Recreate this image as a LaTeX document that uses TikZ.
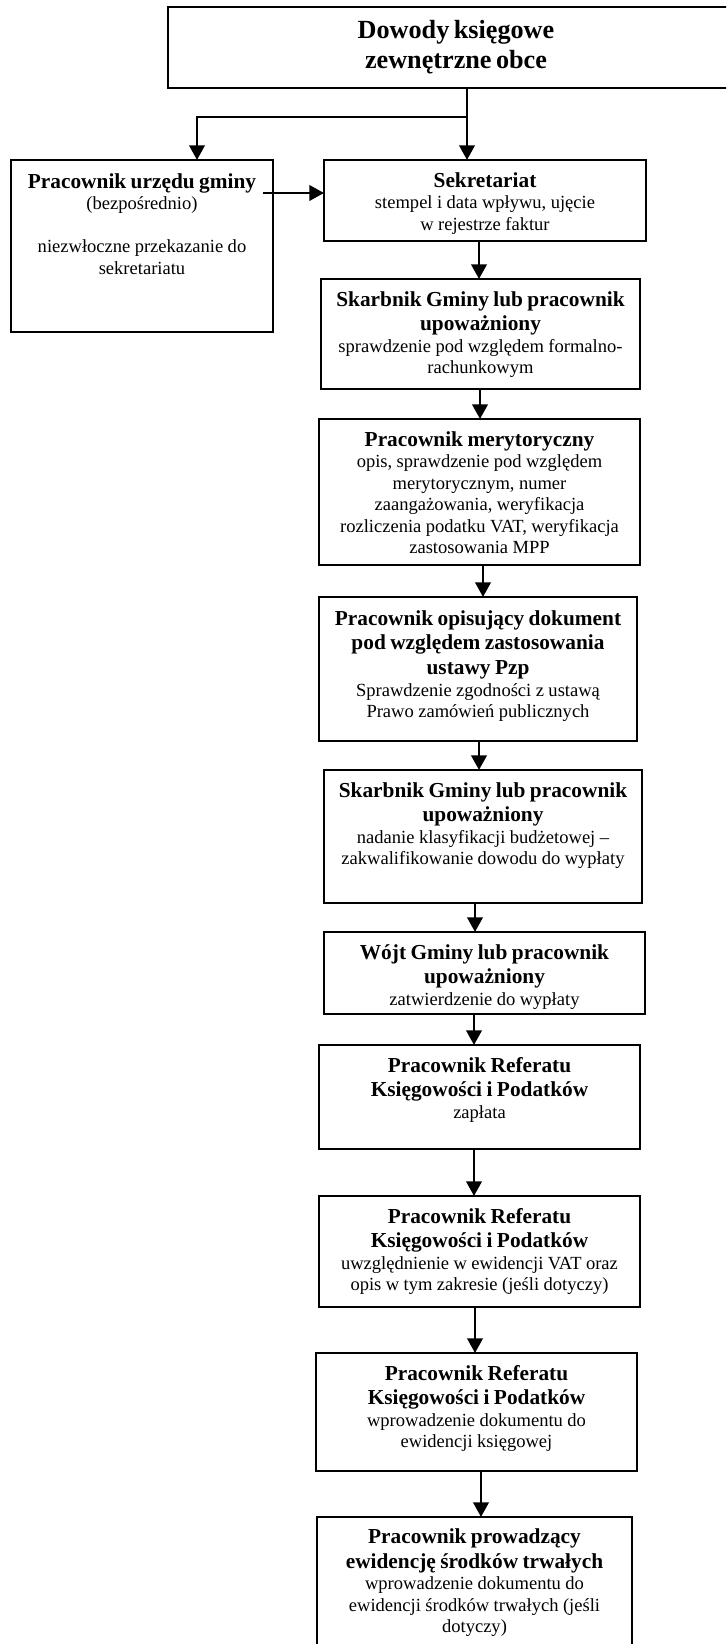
\documentclass[tikz,border=0pt]{standalone}
\usepackage{fontspec}
\setmainfont{Liberation Serif}
\usetikzlibrary{arrows.meta,calc,fit}
\setlength{\parindent}{0pt}
\newcommand\fTitle{\fontsize{19.65pt}{22.8pt}\bfseries\selectfont}
\newcommand\fHead{\fontsize{16pt}{18.5pt}\bfseries\selectfont}
\newcommand\fBody{\fontsize{13.9pt}{16.1pt}\mdseries\selectfont}
\begin{document}
\begin{tikzpicture}[x=0.75pt,y=-0.75pt,
  box/.style={draw, line width=1.6pt, inner sep=0pt, outer sep=0pt},
  txt/.style={anchor=north, inner sep=0pt, text width=232pt, align=center},
  arr/.style={line width=2.2pt, -{Triangle[length=11pt,width=11.5pt]}}]
\useasboundingbox (0,0) rectangle (726,1644);
\clip (0,0) rectangle (726,1644);
% boxes
\node[box, fit={(168,7) (744,88)}] (top) {};
\node[box, fit={(11,160) (273,332)}] (left) {};
\node[box, fit={(324,160) (646,241)}] (sek) {};
\node[box, fit={(321,279) (640,389)}] (sk1) {};
\node[box, fit={(319,419) (640,565)}] (mer) {};
\node[box, fit={(319,597) (637,741)}] (pzp) {};
\node[box, fit={(324,770) (642,903)}] (sk2) {};
\node[box, fit={(324,932) (645,1014)}] (wojt) {};
\node[box, fit={(319,1045) (640,1149)}] (ref1) {};
\node[box, fit={(319,1196) (640,1307)}] (ref2) {};
\node[box, fit={(316,1353) (637,1471)}] (ref3) {};
\node[box, fit={(317,1517) (632,1680)}] (srod) {};
% texts
\node[txt, text width=400pt] (topT) at ($(top.north)+(0,8.3)$) {\fTitle\rule{0pt}{17pt}Dowody księgowe\\zewnętrzne obce\par};
\node[txt, text width=187pt] (leftT) at ($(left.north)+(0,9.3)$) {\fHead\rule{0pt}{14pt}Pracownik urzędu gminy\par\fBody(bezpośrednio)\\[16.1pt]niezwłoczne przekazanie do\\sekretariatu\par};
\node[txt] (sekT) at ($(sek.north)+(0,8.3)$) {\fHead\rule{0pt}{14pt}Sekretariat\par\fBody stempel i data wpływu, ujęcie\\w rejestrze faktur\par};
\node[txt] (sk1T) at ($(sk1.north)+(0,8.3)$) {\fHead\rule{0pt}{14pt}Skarbnik Gminy lub pracownik\\upoważniony\par\fBody sprawdzenie pod względem formalno-\\rachunkowym\par};
\node[txt] (merT) at ($(mer.north)+(0,8.3)$) {\fHead\rule{0pt}{14pt}Pracownik merytoryczny\par\fBody opis, sprawdzenie pod względem\\merytorycznym, numer\\zaangażowania, weryfikacja\\rozliczenia podatku VAT, weryfikacja\\zastosowania MPP\par};
\node[txt] (pzpT) at ($(pzp.north)+(0,9.3)$) {\fHead\rule{0pt}{14pt}Pracownik opisujący dokument\\pod względem zastosowania\\ustawy Pzp\par\fBody Sprawdzenie zgodności z ustawą\\Prawo zamówień publicznych\par};
\node[txt] (sk2T) at ($(sk2.north)+(0,8.3)$) {\fHead\rule{0pt}{14pt}Skarbnik Gminy lub pracownik\\upoważniony\par\fBody nadanie klasyfikacji budżetowej –\\zakwalifikowanie dowodu do wypłaty\par};
\node[txt] (wojtT) at ($(wojt.north)+(0,8.3)$) {\fHead\rule{0pt}{14pt}Wójt Gminy lub pracownik\\upoważniony\par\fBody zatwierdzenie do wypłaty\par};
\node[txt] (ref1T) at ($(ref1.north)+(0,8.3)$) {\fHead\rule{0pt}{14pt}Pracownik Referatu\\Księgowości i Podatków\par\fBody zapłata\par};
\node[txt] (ref2T) at ($(ref2.north)+(0,8.3)$) {\fHead\rule{0pt}{14pt}Pracownik Referatu\\Księgowości i Podatków\par\fBody uwzględnienie w ewidencji VAT oraz\\opis w tym zakresie (jeśli dotyczy)\par};
\node[txt] (ref3T) at ($(ref3.north)+(0,8.3)$) {\fHead\rule{0pt}{14pt}Pracownik Referatu\\Księgowości i Podatków\par\fBody wprowadzenie dokumentu do\\ewidencji księgowej\par};
\node[txt] (srodT) at ($(srod.north)+(0,7.8)$) {\fHead\rule{0pt}{14pt}Pracownik prowadzący\\ewidencję środków trwałych\par\fBody wprowadzenie dokumentu do\\ewidencji środków trwałych (jeśli\\dotyczy)\par};
% connectors
\coordinate (t0) at ($(top.south)+(11,0)$);
\coordinate (j) at ($(top.south)+(11,29)$);
\draw[arr] (t0) -- (t0 |- sek.north);
\draw[arr] (j) -| ($(left.north)+(55,0)$);
\coordinate (h0) at ($(left.east)+(-10,-53)$);
\draw[arr] (h0) -- (h0 -| sek.west);
\coordinate (a1) at ($(sek.south)+(-6,0)$);
\draw[arr] (a1) -- (a1 |- sk1.north);
\coordinate (a2) at ($(sk1.south)+(-0.5,0)$);
\draw[arr] (a2) -- (a2 |- mer.north);
\coordinate (a3) at ($(mer.south)+(3.5,0)$);
\draw[arr] (a3) -- (a3 |- pzp.north);
\coordinate (a4) at ($(pzp.south)+(1,0)$);
\draw[arr] (a4) -- (a4 |- sk2.north);
\coordinate (a5) at ($(sk2.south)+(-8,0)$);
\draw[arr] (a5) -- (a5 |- wojt.north);
\coordinate (a6) at ($(wojt.south)+(-10.5,0)$);
\draw[arr] (a6) -- (a6 |- ref1.north);
\coordinate (a7) at ($(ref1.south)+(-5.5,0)$);
\draw[arr] (a7) -- (a7 |- ref2.north);
\coordinate (a8) at ($(ref2.south)+(-4.5,0)$);
\draw[arr] (a8) -- (a8 |- ref3.north);
\coordinate (a9) at ($(ref3.south)+(4.5,0)$);
\draw[arr] (a9) -- (a9 |- srod.north);
\end{tikzpicture}
\end{document}
